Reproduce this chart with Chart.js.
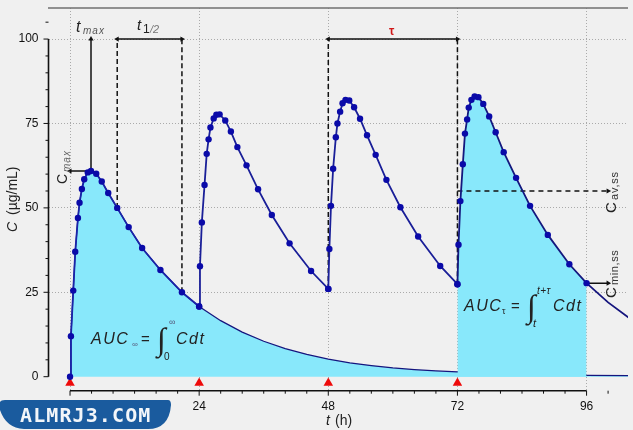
<!DOCTYPE html>
<html>
<head>
<meta charset="utf-8">
<title>C (µg/mL)</title>
<script src="https://cdn.jsdelivr.net/npm/chart.js@4"></script>
<style>
  html, body { margin: 0; padding: 0; background: #f0f0f0; }
  canvas { display: block; }
</style>
</head>
<body>
<canvas id="mycanvas" width="633" height="430"></canvas>
<script>
// values: t in hours, C in ug/mL
var dose1T = [0, 0.17, 0.6, 0.97, 1.47, 1.77, 2.2, 2.64, 3.3, 3.9, 4.87, 5.9, 7.1, 8.77, 10.9, 13.4, 16.8, 20.8, 24];
var dose1C = [0, 12, 25.5, 37, 47, 51.5, 55.6, 58.5, 60.5, 60.9, 60.1, 57.8, 54.4, 50, 44.3, 38.1, 31.6, 25, 20.8];

var dose2T = [24, 24.15, 24.5, 25, 25.4, 25.75, 26.1, 26.7, 27.2, 27.8, 28.85, 29.9, 31.1, 32.8, 34.95, 37.5, 40.8, 44.8, 48];
var dose2C = [20.8, 32.7, 45.7, 56.8, 66, 70.3, 73.8, 76.5, 77.6, 77.7, 75.9, 72.6, 68, 62.6, 55.5, 47.9, 39.5, 31.3, 26];

var dose3T = [48, 48.2, 48.5, 48.9, 49.4, 49.7, 50.2, 50.65, 51.2, 51.9, 52.8, 53.9, 55.2, 56.8, 58.8, 61.4, 64.7, 68.8, 72];
var dose3C = [26, 37.8, 50.6, 61.6, 70.9, 75, 78.5, 81, 82, 81.8, 79.8, 76.4, 71.5, 65.7, 58.3, 50.2, 41.5, 32.8, 27.4];

var dose4T = [72, 72.2, 72.55, 73, 73.4, 73.8, 74.1, 74.6, 75.2, 75.9, 76.8, 77.9, 79.1, 80.6, 82.9, 85.5, 88.8, 92.8, 96];
var dose4C = [27.4, 39.1, 52, 62.9, 72, 76.2, 79.7, 82, 83, 82.8, 80.8, 77.1, 72.4, 66.5, 58.9, 50.6, 42, 33.3, 27.7];

// single dose decay and the end of the last dose, no markers on these
var tailT = [28, 32, 36, 40, 44, 48, 52, 56, 60, 64, 68, 72, 76, 80, 84, 88, 92, 96, 103.7];
var tailC = [16.6, 13.2, 10.5, 8.3, 6.6, 5.2, 4.1, 3.3, 2.6, 2.1, 1.7, 1.4, 1.1, 0.9, 0.7, 0.6, 0.5, 0.4, 0.3];
var endT = [96, 100, 103.8];
var endC = [27.7, 22, 17.5];

var doseTimes = [0, 24, 48, 72];
var xLabels = [0, 24, 48, 72, 96];
var yLabels = [0, 25, 50, 75, 100];
var tMax = 3.9, cMax = 60.9;
var halfStart = 8.77, halfEnd = 20.8;
var cAvSS = 55, avEnd = 100;

function pts(xs, ys) {
  return xs.map(function(x, i) { return { x: x, y: ys[i] }; });
}

function curve(xs, ys, color, markers) {
  return {
    data: pts(xs, ys),
    showLine: true,
    tension: 0,
    borderColor: color,
    borderWidth: 1.8,
    pointRadius: markers ? 3.2 : 0,
    pointBackgroundColor: '#0a0aa8',
    pointBorderWidth: 0
  };
}

// reference line, with optional arrow heads given as rotation per end
function ref(xs, ys, dash, heads) {
  return {
    data: pts(xs, ys),
    showLine: true,
    tension: 0,
    borderColor: '#111',
    borderWidth: 1.5,
    borderDash: dash,
    pointStyle: 'triangle',
    pointRadius: heads.map(function(h) { return h === null ? 0 : 3; }),
    pointRotation: heads.map(function(h) { return h === null ? 0 : h; }),
    pointBackgroundColor: '#111',
    pointBorderWidth: 0
  };
}

var auc = '#88e8fb';
var navy = '#15157e';

var datasets = [
  curve(dose1T, dose1C, '#1a24a8', true),
  curve(dose2T, dose2C, '#1a1f98', true),
  curve(dose3T, dose3C, '#1a1f98', true),
  curve(dose4T, dose4C, '#14187e', true),
  curve(endT, endC, navy, false),
  ref([tMax, tMax], [cMax, 100], [], [null, 0]),
  ref([tMax, 0], [cMax, cMax], [], [null, 270]),
  ref([halfStart, halfStart], [50, 100], [5, 3], [null, null]),
  ref([halfEnd, halfEnd], [25, 100], [5, 3], [null, null]),
  ref([halfStart, halfEnd], [100, 100], [], [270, 90]),
  ref([48, 48], [26, 100], [5, 3], [null, null]),
  ref([72, 72], [27.4, 100], [5, 3], [null, null]),
  ref([48, 72], [100, 100], [], [270, 90]),
  ref([72, avEnd], [cAvSS, cAvSS], [5, 4], [null, 90]),
  ref([96, avEnd], [27.7, 27.7], [], [null, 90]),
  {
    data: doseTimes.map(function(t) { return { x: t, y: -1.9 }; }),
    showLine: false,
    pointStyle: 'triangle',
    pointRadius: 5.5,
    pointBackgroundColor: '#ee0a0a',
    pointBorderWidth: 0
  },
  Object.assign(curve(dose4T, dose4C, 'rgba(0,0,0,0)', false), { fill: 'origin', backgroundColor: auc }),
  Object.assign(curve(dose1T.concat(tailT), dose1C.concat(tailC), navy, false), { borderWidth: 1.2, fill: 'origin', backgroundColor: auc })
];

// text written with several fonts on one baseline
function runs(ctx, x, y, angle, parts) {
  ctx.save();
  ctx.translate(x, y);
  ctx.rotate(angle);
  ctx.textAlign = 'left';
  ctx.textBaseline = 'alphabetic';
  parts.forEach(function(p) {
    ctx.font = p.font;
    ctx.fillStyle = p.color || '#222';
    ctx.letterSpacing = (p.sp || 0) + 'px';
    ctx.fillText(p.t, (p.dx || 0), (p.dy || 0));
  });
  ctx.restore();
}

var sans = '"Liberation Sans", Arial, sans-serif';
var up = -Math.PI / 2;

var frame = {
  id: 'frame',
  beforeDraw: function(chart) {
    var c = chart.ctx;
    c.save();
    c.fillStyle = '#f0f0f0';
    c.fillRect(0, 0, chart.width, chart.height);
    c.restore();
  },
  afterDraw: function(chart) {
    var c = chart.ctx, xs = chart.scales.x, ys = chart.scales.y;
    var axisX = chart.chartArea.left, axisY = chart.chartArea.bottom;

    c.save();
    c.strokeStyle = '#111';
    c.lineWidth = 1.6;
    c.beginPath();
    c.moveTo(axisX, ys.getPixelForValue(100));
    c.lineTo(axisX, ys.getPixelForValue(0));
    c.moveTo(xs.getPixelForValue(0), axisY);
    c.lineTo(xs.getPixelForValue(96), axisY);
    c.stroke();

    c.lineWidth = 1;
    c.beginPath();
    ys.ticks.forEach(function(t) {
      var p = ys.getPixelForValue(t.value);
      c.moveTo(axisX, p);
      c.lineTo(axisX - (t.value % 25 === 0 ? 5 : 3), p);
    });
    xs.ticks.forEach(function(t) {
      var p = xs.getPixelForValue(t.value);
      c.moveTo(p, axisY);
      c.lineTo(p, axisY + (t.value % 24 === 0 ? 5 : 3));
    });
    c.stroke();

    // top rule
    c.strokeStyle = '#707070';
    c.lineWidth = 1.5;
    c.beginPath();
    c.moveTo(48, 8);
    c.lineTo(628, 8);
    c.stroke();
    c.restore();

    // axis titles
    runs(c, 17, 232, up, [{ t: 'C', font: 'italic 14px ' + sans }, { t: '(µg/mL)', font: '14px ' + sans, dx: 17 }]);
    runs(c, 326, 425, 0, [{ t: 't', font: 'italic 14px ' + sans }, { t: '(h)', font: '14px ' + sans, dx: 9 }]);

    // annotations
    runs(c, 76, 32, 0, [
      { t: 't', font: 'italic 16px ' + sans },
      { t: 'max', font: 'italic 10px ' + sans, color: '#555', sp: 1, dx: 7, dy: 2 }
    ]);
    runs(c, 137, 30, 0, [
      { t: 't', font: 'italic 15px ' + sans },
      { t: '1', font: '12px ' + sans, dx: 6, dy: 3 },
      { t: '/2', font: 'italic 11px ' + sans, color: '#777', dx: 13, dy: 3 }
    ]);
    runs(c, 389, 35, 0, [{ t: 'τ', font: 'bold 12px ' + sans, color: '#d01818' }]);

    runs(c, 67, 184, up, [
      { t: 'C', font: '14px ' + sans },
      { t: 'max', font: 'italic 10px ' + sans, color: '#666', sp: 1, dx: 12, dy: 3 }
    ]);
    runs(c, 616, 213, up, [
      { t: 'C', font: '15px ' + sans },
      { t: 'av,ss', font: '11px ' + sans, color: '#333', sp: 0.8, dx: 13, dy: 2 }
    ]);
    runs(c, 616, 298, up, [
      { t: 'C', font: '15px ' + sans },
      { t: 'min,ss', font: '11px ' + sans, color: '#333', sp: 0.6, dx: 13, dy: 2 }
    ]);

    // AUC formulas
    var big = 'italic 16px ' + sans, small = 'italic 8px ' + sans;
    var integral = '32px "Liberation Serif"';
    runs(c, 91, 344, 0, [
      { t: 'AUC', font: big, sp: 1.5 },
      { t: '∞', font: small, color: '#557', dx: 41, dy: 3 },
      { t: '=', font: '15px ' + sans, dx: 50 },
      { t: '∫', font: integral, dx: 66, dy: 6 },
      { t: '∞', font: '9px ' + sans, color: '#557', dx: 78, dy: -19 },
      { t: '0', font: '10px ' + sans, dx: 73, dy: 16 },
      { t: 'Cdt', font: big, sp: 1.5, dx: 85 }
    ]);
    runs(c, 464, 311, 0, [
      { t: 'AUC', font: big, sp: 1.5 },
      { t: 'τ', font: '9px ' + sans, dx: 38, dy: 3 },
      { t: '=', font: '15px ' + sans, dx: 47 },
      { t: '∫', font: integral, dx: 63, dy: 6 },
      { t: 't+τ', font: 'italic 10px ' + sans, sp: 0.5, dx: 73, dy: -17 },
      { t: 't', font: 'italic 11px ' + sans, dx: 69, dy: 16 },
      { t: 'Cdt', font: big, sp: 1.5, dx: 89 }
    ]);

    // site badge
    c.save();
    c.fillStyle = '#1a5b9e';
    c.beginPath();
    c.moveTo(0, 402);
    c.quadraticCurveTo(1, 400, 5, 400);
    c.lineTo(168, 400);
    c.quadraticCurveTo(171, 400, 171, 405);
    c.quadraticCurveTo(169, 429, 148, 429);
    c.lineTo(24, 429);
    c.quadraticCurveTo(6, 428, 0, 410);
    c.closePath();
    c.fill();
    c.restore();
    runs(c, 20, 422, 0, [{ t: 'ALMRJ3.COM', font: 'bold 20px "DejaVu Sans Mono", monospace', color: '#f2f6fa', sp: 1.1 }]);
  }
};

var ctx = document.getElementById('mycanvas');

new Chart(ctx, {
  type: 'scatter',
  data: { datasets: datasets },
  plugins: [frame],
  options: {
    responsive: false,
    animation: false,
    layout: { autoPadding: false, padding: { top: 8, right: 5, left: 0, bottom: 0 } },
    plugins: { legend: { display: false }, tooltip: { enabled: false } },
    scales: {
      x: {
        type: 'linear',
        min: -4,
        max: 103.7,
        afterBuildTicks: function(axis) {
          var t = [];
          for (var v = 0; v <= 100; v += 4) t.push({ value: v });
          axis.ticks = t;
        },
        afterFit: function(axis) {
          axis.height = 39.3;
          axis.paddingLeft = 0;
          axis.paddingRight = 0;
        },
        border: { display: false, dash: [1, 2] },
        grid: {
          drawTicks: false,
          color: function(c) {
            return xLabels.indexOf(c.tick.value) >= 0 ? '#aaaaaa' : 'rgba(0,0,0,0)';
          }
        },
        ticks: {
          autoSkip: false,
          maxRotation: 0,
          padding: 9,
          color: '#111',
          font: { family: sans, size: 12 },
          callback: function(v) { return xLabels.indexOf(v) >= 0 ? String(v) : ''; }
        }
      },
      y: {
        type: 'linear',
        min: -4.15,
        max: 109.2,
        afterBuildTicks: function(axis) {
          var t = [];
          for (var v = 0; v <= 105; v += 5) t.push({ value: v });
          axis.ticks = t;
        },
        afterFit: function(axis) {
          axis.width = 48.5;
          axis.paddingTop = 0;
          axis.paddingBottom = 0;
        },
        border: { display: false, dash: [1, 2] },
        grid: {
          drawTicks: false,
          color: function(c) {
            return c.tick.value > 0 && yLabels.indexOf(c.tick.value) >= 0 ? '#aaaaaa' : 'rgba(0,0,0,0)';
          }
        },
        ticks: {
          autoSkip: false,
          padding: 10,
          color: '#111',
          font: { family: sans, size: 12 },
          callback: function(v) { return yLabels.indexOf(v) >= 0 ? String(v) : ''; }
        }
      }
    }
  }
});
</script>
</body>
</html>
